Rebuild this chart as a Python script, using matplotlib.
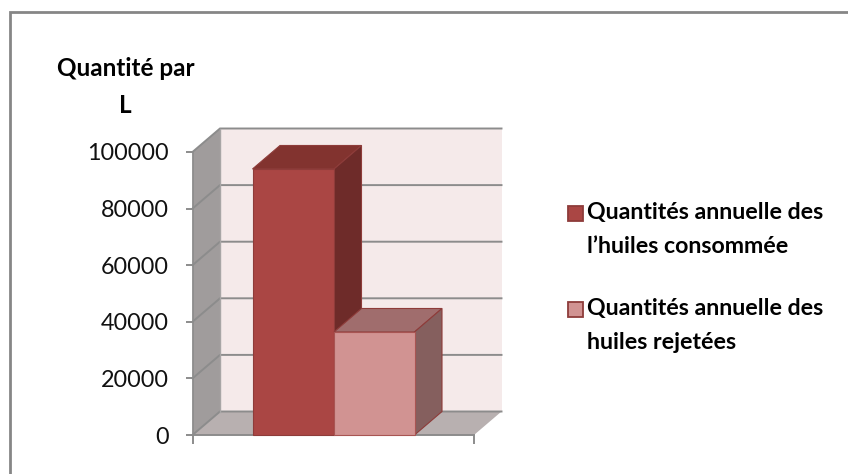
import matplotlib
matplotlib.use("Agg")
import matplotlib.pyplot as plt
from matplotlib.patches import Polygon, Rectangle

plt.rcParams['font.family'] = ['Lato', 'DejaVu Sans']

# data
series_labels = ["Quantités annuelle des\nl’huiles consommée",
                 "Quantités annuelle des\nhuiles rejetées"]
values = [94000, 36400]
y_ticks = [0, 20000, 40000, 60000, 80000, 100000]
y_title = "Quantité par\nL"

W, H = 848, 474
fig = plt.figure(figsize=(W/100, H/100), dpi=100, facecolor='white')

# figure frame (left and top edges only are visible in the crop)
bg = fig.add_axes([0, 0, 1, 1], zorder=0)
bg.set_xlim(0, W); bg.set_ylim(H, 0); bg.axis('off')
bg.plot([9.5, 9.5, W], [H, 11.5, 11.5], color='#868686', lw=2.0, solid_joinstyle='miter')

# front plane of plot in pixels
L, R, Y0, Y1 = 192.5, 474.0, 435.0, 152.0
ax = fig.add_axes([L/W, 1-Y0/H, (R-L)/W, (Y0-Y1)/H], zorder=1)
ax.set_xlim(L, R)
ax.set_ylim(0, 100000)
ax.patch.set_visible(False)
for s in ax.spines.values():
    s.set_visible(False)

DX = 27.5
DY = 23.5 / (Y0 - Y1) * 100000
GRID = '#8c8c8c'

def poly(pts, fc, ec='none', lw=0, z=1):
    ax.add_patch(Polygon(pts, closed=True, fc=fc, ec=ec, lw=lw, zorder=z, clip_on=False, joinstyle='miter'))

top = y_ticks[-1]
poly([(L+DX, DY), (R+DX, DY), (R+DX, top+DY), (L+DX, top+DY)], '#f5eaea', z=1)
poly([(L, 0), (L+DX, DY), (L+DX, top+DY), (L, top)], '#a09c9c', z=1)
poly([(L, 0), (R, 0), (R+DX, DY), (L+DX, DY)], '#b8b0b0', z=1)

for t in y_ticks:
    ax.plot([L, L+DX, R+DX], [t, t+DY, t+DY], color=GRID, lw=1.4, zorder=2, clip_on=False,
            solid_joinstyle='miter')
ax.plot([L+DX, L+DX], [DY, top+DY], color='#a8a6a6', lw=1.0, zorder=2, clip_on=False)
ax.plot([L, L], [0, top], color=GRID, lw=1.2, zorder=2, clip_on=False)
ax.plot([L, R], [0, 0], color=GRID, lw=1.4, zorder=2, clip_on=False)

x_left = [252.5, 334.0]
x_w = [81.5, 80.5]
front = ['#aa4644', '#d19392']
topc = ['#82332f', '#a06d6d']
side = ['#6e2b29', '#855f5e']
edge = '#8e3c3a'
for i in range(2):
    z = 5 - i if i == 0 else 7
    x0, w, v = x_left[i], x_w[i], values[i]
    poly([(x0, v), (x0+w, v), (x0+w+DX, v+DY), (x0+DX, v+DY)], topc[i], edge, 0.8, z)
    poly([(x0+w, 0), (x0+w+DX, DY), (x0+w+DX, v+DY), (x0+w, v)], side[i], edge, 0.8, z)
    ax.bar(x0, v, width=w, align='edge', color=front[i], edgecolor=edge if i == 0 else '#a85553',
           linewidth=0.8, zorder=z+1, clip_on=False)

ax.set_yticks(y_ticks)
ax.set_yticklabels([str(t) for t in y_ticks], fontsize=16.8, color='#111111')
ax.tick_params(axis='y', length=5, width=1.4, color=GRID, pad=12)
ax.set_xticks([L, R])
ax.set_xticklabels([])
ax.tick_params(axis='x', length=6.5, width=1.4, color=GRID)

a, b = y_title.split("\n")
bg.text(125.5, 68, a, ha='center', va='center', fontsize=17.5, fontweight='bold', color='black')
bg.text(125.5, 105, b, ha='center', va='center', fontsize=17.5, fontweight='bold', color='black')

leg_y = [213, 309]
for i, lab in enumerate(series_labels):
    bg.add_patch(Rectangle((567.5, leg_y[i]-7.5), 15.5, 15.5, fc=front[i], ec=edge, lw=1.3))
    a, b = lab.split("\n")
    bg.text(587, leg_y[i]-1, a, ha='left', va='center', fontsize=16.7, fontweight='bold', color='black')
    bg.text(587, leg_y[i]+33.5, b, ha='left', va='center', fontsize=16.7, fontweight='bold', color='black')

fig.savefig('out.png', dpi=100, facecolor='white')
